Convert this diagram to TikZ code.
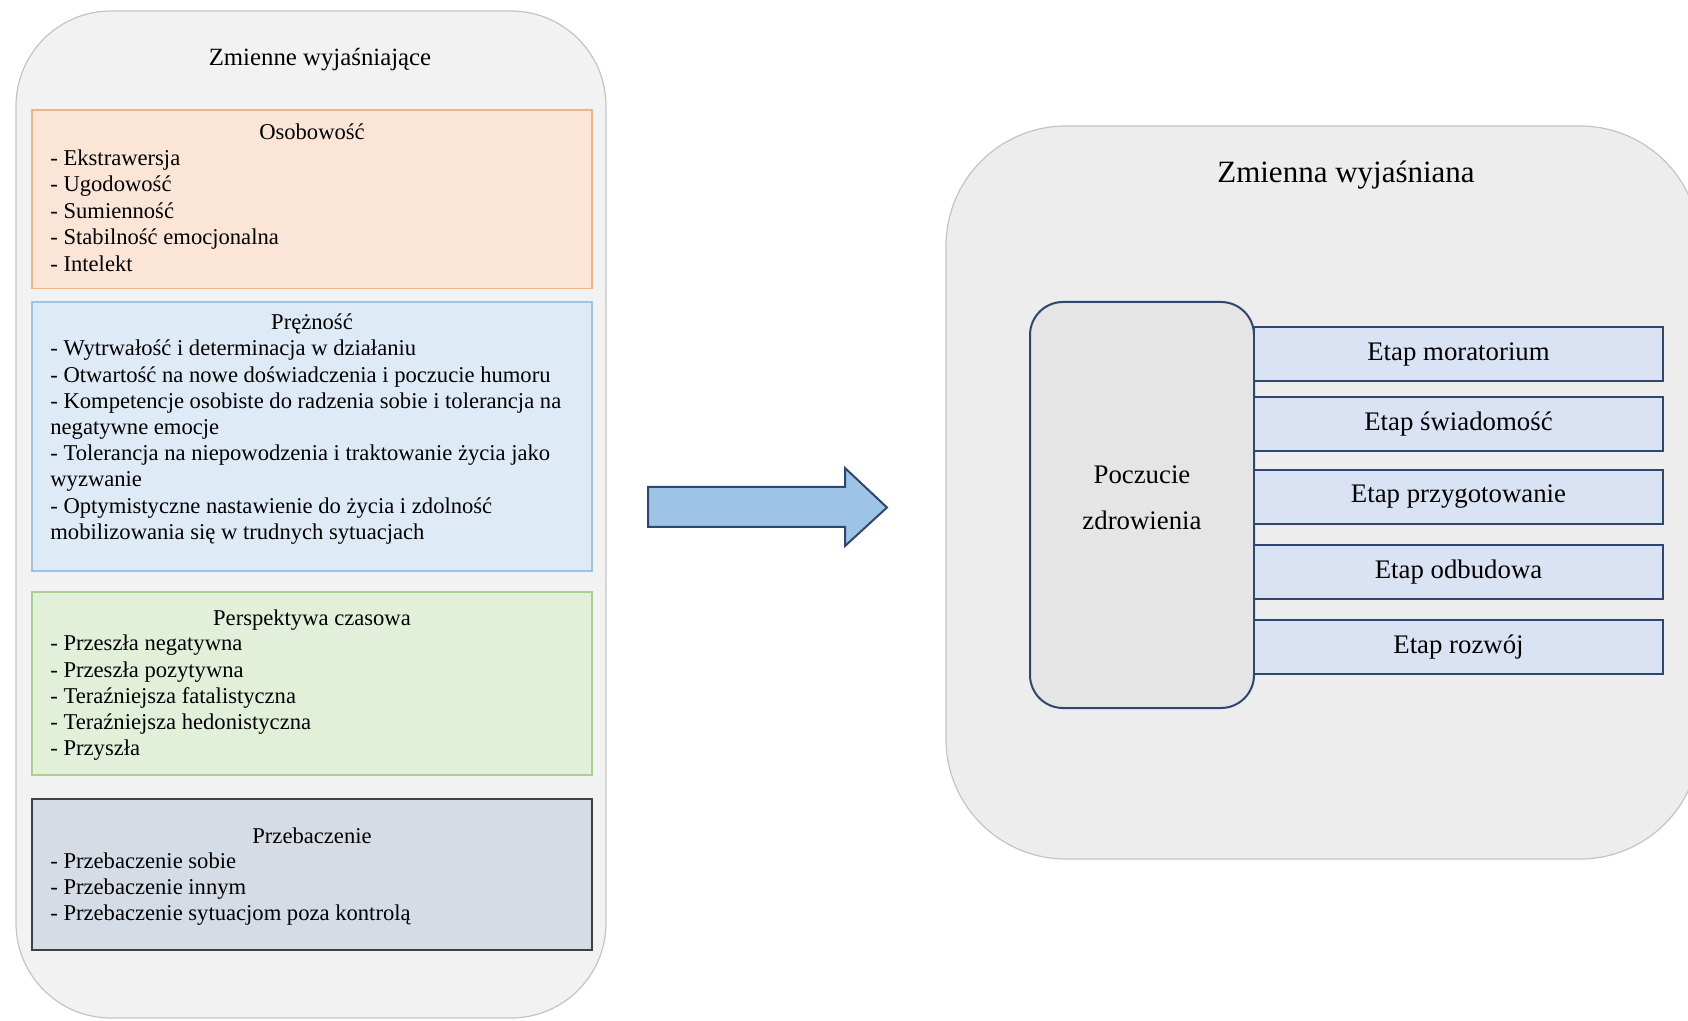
\documentclass[tikz,border=0pt]{standalone}
\usepackage{fontspec}
\setmainfont{Liberation Serif}

\definecolor{panelL}{HTML}{F2F2F2}
\definecolor{panelR}{HTML}{EDEDED}
\definecolor{panelEdge}{HTML}{C4C4C4}
\definecolor{peachFill}{HTML}{FBE5D6}
\definecolor{peachEdge}{HTML}{F4B183}
\definecolor{skyFill}{HTML}{DEEBF7}
\definecolor{skyEdge}{HTML}{9DC3E6}
\definecolor{mintFill}{HTML}{E2F0D9}
\definecolor{mintEdge}{HTML}{A9D18E}
\definecolor{slateFill}{HTML}{D6DCE5}
\definecolor{slateEdge}{HTML}{404040}
\definecolor{stageFill}{HTML}{DAE3F3}
\definecolor{navyEdge}{HTML}{2F4670}
\definecolor{pillFill}{HTML}{E5E5E5}
\definecolor{arrowFill}{HTML}{9DC3E6}

\tikzset{
  panel/.style={draw=panelEdge, line width=0.6pt, inner sep=0pt, outer sep=0pt},
  group/.style={rectangle, line width=0.9pt, inner sep=0pt, outer sep=0pt,
                minimum width=280pt},
  grouphead/.style={anchor=base, inner sep=0pt, font=\fontsize{11.3}{13.2}\selectfont},
  itemline/.style={anchor=base west, inner sep=0pt, font=\fontsize{11.3}{13.2}\selectfont},
  stagebox/.style={draw=navyEdge, fill=stageFill, line width=1pt, inner sep=0pt,
                   outer sep=0pt, minimum width=204.5pt, minimum height=27pt,
                   font=\fontsize{13.4}{15}\selectfont},
  pilltext/.style={anchor=base, inner sep=0pt, font=\fontsize{13.4}{15}\selectfont},
  blockarrow/.style={draw=navyEdge, fill=arrowFill, line width=1pt, line join=miter},
}

\begin{document}
\begin{tikzpicture}[x=0.5pt, y=-0.5pt]
\clip (0,0) rectangle (1688,1021);

% ---------- left panel: explanatory variables ----------
\node[panel, fill=panelL, rounded corners=47.5pt,
      minimum width=295pt, minimum height=503.5pt] (expl) at (311,514.5) {};
\node[anchor=base, inner sep=0pt, font=\fontsize{12.4}{14}\selectfont]
      (explTitle) at (320,65.7) {Zmienne wyjaśniające};

% Personality
\node[group, draw=peachEdge, fill=peachFill, minimum height=89.25pt] (pers) at (312,199.25) {};
\node[grouphead] (persHead) at (312,139.5) {Osobowość};
\foreach \t [count=\i] in {{- Ekstrawersja},{- Ugodowość},{- Sumienność},
                           {- Stabilność emocjonalna},{- Intelekt}}
  \node[itemline] (pers\i) at (50,{165.5+26.4*(\i-1)}) {\t};

% Resilience
\node[group, draw=skyEdge, fill=skyFill, minimum height=134.5pt] (resil) at (312,436.25) {};
\node[grouphead] (resilHead) at (312,330) {Prężność};
\foreach \t [count=\i] in {{- Wytrwałość i determinacja w działaniu},
                           {- Otwartość na nowe doświadczenia i poczucie humoru},
                           {- Kompetencje osobiste do radzenia sobie i tolerancja na},
                           {negatywne emocje},
                           {- Tolerancja na niepowodzenia i traktowanie życia jako},
                           {wyzwanie},
                           {- Optymistyczne nastawienie do życia i zdolność},
                           {mobilizowania się w trudnych sytuacjach}}
  \node[itemline] (resil\i) at (50,{356+26.2*(\i-1)}) {\t};

% Time perspective
\node[group, draw=mintEdge, fill=mintFill, minimum height=91.5pt] (time) at (312,683.25) {};
\node[grouphead] (timeHead) at (312,625) {Perspektywa czasowa};
\foreach \t [count=\i] in {{- Przeszła negatywna},{- Przeszła pozytywna},
                           {- Teraźniejsza fatalistyczna},{- Teraźniejsza hedonistyczna},
                           {- Przyszła}}
  \node[itemline] (time\i) at (50,{651+26.2*(\i-1)}) {\t};

% Forgiveness
\node[group, draw=slateEdge, fill=slateFill, minimum height=75.5pt] (forg) at (312,874.5) {};
\node[grouphead] (forgHead) at (312,843.3) {Przebaczenie};
\foreach \t [count=\i] in {{- Przebaczenie sobie},{- Przebaczenie innym},
                           {- Przebaczenie sytuacjom poza kontrolą}}
  \node[itemline] (forg\i) at (50,{868.7+26*(\i-1)}) {\t};

% ---------- block arrow ----------
\draw[blockarrow] (648,487) -- (845,487) -- (845,468) -- (887,507.5)
                  -- (845,546) -- (845,527) -- (648,527) -- cycle;

% ---------- right panel: explained variable ----------
\node[panel, fill=panelR, rounded corners=60pt,
      minimum width=377pt, minimum height=366.5pt] (resp) at (1323,492.5) {};
\node[anchor=base, inner sep=0pt, font=\fontsize{15.5}{17}\selectfont]
      (respTitle) at (1346,183) {Zmienna wyjaśniana};

\node[draw=navyEdge, fill=pillFill, line width=1pt, rounded corners=16.5pt,
      inner sep=0pt, outer sep=0pt, minimum width=112pt, minimum height=203pt]
      (recov) at (1142,505) {};
\node[pilltext] (recov1) at (1142,484) {Poczucie};
\node[pilltext] (recov2) at (1142,530) {zdrowienia};

\foreach \t/\yc [count=\i] in {Etap moratorium/354, Etap świadomość/424,
                               Etap przygotowanie/497, Etap odbudowa/572,
                               Etap rozwój/647}
  \node[stagebox] (stage\i) at (1458.5,\yc) {\t};

\end{tikzpicture}
\end{document}
